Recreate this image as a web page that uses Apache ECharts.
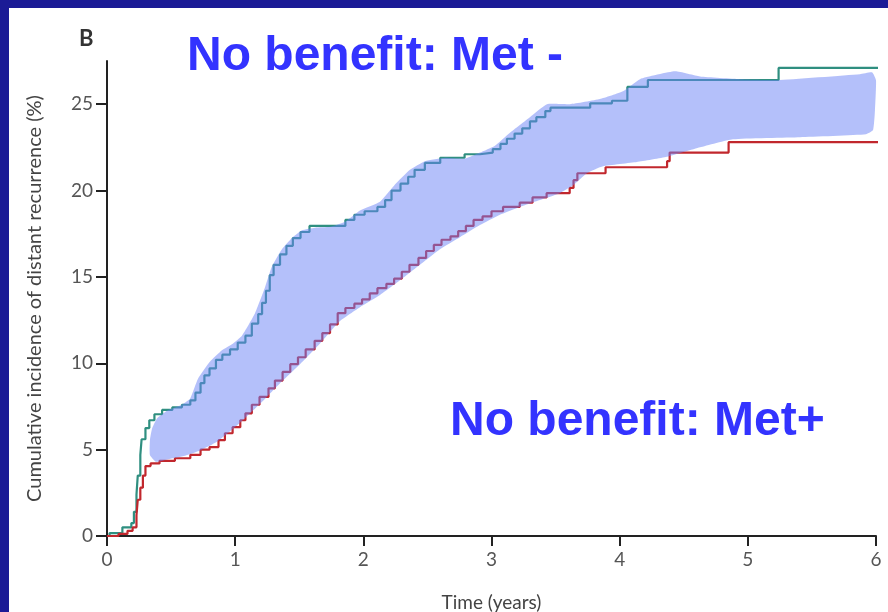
<!DOCTYPE html>
<html>
<head>
<meta charset="utf-8">
<script src="https://cdn.jsdelivr.net/npm/echarts@6/dist/echarts.min.js"></script>
<style>
  html, body { margin: 0; padding: 0; background: #1b1b96; }
  #chart { width: 888px; height: 612px; }
</style>
</head>
<body>
<div id="chart"></div>
<script>
// Cumulative incidence of distant recurrence, two groups (step curves: [years, %])
const metNeg = [
  [0, 0], [0.02, 0.17], [0.12, 0.5], [0.19, 0.75], [0.21, 1.4], [0.23, 2.4], [0.24, 3.5],
  [0.26, 4.7], [0.27, 5.6], [0.30, 6.25], [0.33, 6.7], [0.37, 7.05], [0.43, 7.3],
  [0.51, 7.45], [0.585, 7.6], [0.65, 7.85], [0.69, 8.3], [0.73, 8.85], [0.76, 9.3],
  [0.80, 9.7], [0.85, 10.2], [0.90, 10.5], [0.96, 10.8], [1.02, 11.2], [1.08, 11.6],
  [1.13, 12.3], [1.18, 12.85], [1.21, 13.5], [1.24, 14.2], [1.27, 15.1], [1.30, 15.7],
  [1.35, 16.3], [1.40, 16.8], [1.45, 17.25], [1.51, 17.6], [1.58, 17.95], [1.86, 18.3],
  [1.93, 18.6], [2.01, 18.8], [2.11, 19.05], [2.17, 19.45], [2.22, 20.0], [2.29, 20.4],
  [2.35, 20.8], [2.40, 21.2], [2.48, 21.6], [2.60, 21.9], [2.79, 22.1], [2.91, 22.2],
  [3.01, 22.4], [3.07, 22.7], [3.12, 23.0], [3.18, 23.3], [3.24, 23.6], [3.30, 24.0],
  [3.35, 24.25], [3.42, 24.6], [3.46, 24.8], [3.77, 25.05], [3.94, 25.2], [4.06, 26.0],
  [4.22, 26.4], [5.24, 27.1], [6.07, 27.1]
];
const metPos = [
  [0, 0], [0.09, 0.12], [0.16, 0.3], [0.20, 0.5], [0.23, 1.2], [0.24, 2.1], [0.26, 2.8],
  [0.28, 3.5], [0.30, 4.05], [0.34, 4.2], [0.41, 4.35], [0.53, 4.5], [0.65, 4.7],
  [0.73, 5.0], [0.80, 5.15], [0.87, 5.55], [0.92, 5.95], [0.98, 6.3], [1.04, 6.7],
  [1.08, 7.1], [1.13, 7.6], [1.19, 8.05], [1.26, 8.55], [1.31, 9.0], [1.37, 9.5],
  [1.43, 9.95], [1.49, 10.35], [1.55, 10.8], [1.62, 11.3], [1.68, 11.75], [1.74, 12.25],
  [1.80, 12.9], [1.86, 13.2], [1.93, 13.45], [1.99, 13.7], [2.05, 14.05], [2.11, 14.35],
  [2.18, 14.6], [2.24, 14.9], [2.30, 15.3], [2.36, 15.7], [2.43, 16.1], [2.49, 16.5],
  [2.55, 16.85], [2.61, 17.15], [2.68, 17.35], [2.74, 17.65], [2.80, 17.95], [2.86, 18.3],
  [2.93, 18.5], [3.00, 18.8], [3.09, 19.05], [3.22, 19.3], [3.32, 19.6], [3.43, 19.85],
  [3.61, 20.15], [3.64, 20.6], [3.67, 21.0], [3.89, 21.35], [4.37, 21.7], [4.39, 22.2],
  [4.85, 22.8], [6.07, 22.8]
];

// Highlighted band between the curves: upper edge left to right, lower edge right to left
const bandUpper = [
  [0.335, 5.56], [0.351, 6.2], [0.390, 6.8], [0.468, 7.25], [0.570, 7.55], [0.648, 7.95],
  [0.710, 9.1], [0.804, 10.1], [0.897, 10.75], [0.975, 11.1], [1.053, 11.6], [1.155, 12.9],
  [1.233, 14.4], [1.287, 15.6], [1.365, 16.6], [1.443, 17.25], [1.521, 17.7], [1.623, 17.85],
  [1.740, 17.9], [1.857, 18.2], [1.974, 18.85], [2.130, 19.35], [2.247, 20.35], [2.364, 21.2],
  [2.481, 21.7], [2.637, 21.9], [2.793, 21.85], [2.910, 22.2], [3.027, 22.6], [3.144, 23.35],
  [3.300, 24.25], [3.433, 25.0], [3.612, 25.0], [3.846, 25.3], [4.026, 25.75], [4.159, 26.45],
  [4.432, 26.9], [4.627, 26.6], [4.939, 26.45], [5.227, 26.4], [5.875, 26.74], [5.969, 26.85],
  [6.000, 26.39], [5.992, 24.65], [5.977, 23.50], [5.922, 23.26]
];
const bandLower = [
  [5.407, 23.09], [4.884, 22.97], [4.627, 22.5], [4.369, 21.95], [4.135, 21.65], [3.870, 21.4],
  [3.745, 21.0], [3.636, 20.3], [3.534, 19.85], [3.417, 19.55], [3.222, 19.05], [3.066, 18.6],
  [2.910, 18.0], [2.754, 17.3], [2.598, 16.6], [2.442, 15.7], [2.286, 14.8], [2.130, 13.95],
  [1.974, 13.25], [1.818, 12.45], [1.662, 11.15], [1.506, 9.95], [1.350, 8.85], [1.194, 7.65],
  [1.038, 6.55], [0.858, 5.45], [0.726, 4.95], [0.609, 4.65], [0.476, 4.45], [0.382, 4.3],
  [0.335, 4.69]
];

const xTicks = [0, 1, 2, 3, 4, 5, 6];
const yTicks = [0, 5, 10, 15, 20, 25];

const chart = echarts.init(document.getElementById('chart'), null, { renderer: 'canvas' });
const tickFont = 'Lato, "Open Sans", sans-serif';
const calloutFont = 'bold 48px "Liberation Sans", Arial, sans-serif';

chart.setOption({
  backgroundColor: '#1b1b96',
  animation: false,
  graphic: [
    { type: 'rect', left: 9, top: 8, shape: { width: 879, height: 604 }, style: { fill: '#ffffff' }, z: -10 },
    { type: 'text', left: 79, top: 28, style: { text: 'B', font: 'bold 22px ' + tickFont, fill: '#333333' } },
    { type: 'text', left: 187, top: 33, style: { text: 'No benefit: Met -', font: calloutFont, fill: '#3333ff' }, z: 20 },
    { type: 'text', left: 450, top: 398, style: { text: 'No benefit: Met+', font: calloutFont, fill: '#3333ff' }, z: 20 }
  ],
  grid: { left: 107, right: 12, top: 61, bottom: 76, outerBoundsMode: 'none', containLabel: false },
  xAxis: {
    type: 'value', min: 0, max: 6, interval: 1,
    name: 'Time (years)', nameLocation: 'middle', nameGap: 57,
    nameTextStyle: { fontFamily: tickFont, fontSize: 19, color: '#444444' },
    axisLine: { lineStyle: { color: '#222222', width: 2 } },
    axisTick: { inside: false, length: 10, lineStyle: { color: '#222222', width: 2 }, customValues: xTicks },
    axisLabel: { fontFamily: tickFont, fontSize: 19, color: '#555555', margin: 14, customValues: xTicks },
    splitLine: { show: false }
  },
  yAxis: {
    type: 'value', min: 0, max: 27.5, interval: 5,
    name: 'Cumulative incidence of distant recurrence (%)', nameLocation: 'middle', nameGap: 62,
    nameTextStyle: { fontFamily: tickFont, fontSize: 20, color: '#444444' },
    axisLine: { show: true, lineStyle: { color: '#222222', width: 2 } },
    axisTick: { show: true, inside: false, length: 11, lineStyle: { color: '#222222', width: 2 }, customValues: yTicks },
    axisLabel: { fontFamily: tickFont, fontSize: 19, color: '#555555', margin: 14, customValues: yTicks },
    splitLine: { show: false }
  },
  series: [
    {
      name: 'Met -', type: 'line', step: 'end', data: metNeg, symbol: 'none', clip: false,
      lineStyle: { color: '#2f8f80', width: 2.2 }, z: 3
    },
    {
      name: 'Met+', type: 'line', step: 'end', data: metPos, symbol: 'none', clip: false,
      lineStyle: { color: '#c1272d', width: 2.2 }, z: 3
    },
    {
      type: 'custom', silent: true, clip: false, z: 5,
      data: [[0, 0]],
      encode: { x: 0, y: 1 },
      renderItem: function (params, api) {
        const pts = bandUpper.concat(bandLower).map(function (p) { return api.coord(p); });
        return {
          type: 'polygon',
          shape: { points: pts, smooth: 0.15 },
          style: { fill: 'rgba(105,130,245,0.5)' }
        };
      }
    }
  ]
});
</script>
</body>
</html>
